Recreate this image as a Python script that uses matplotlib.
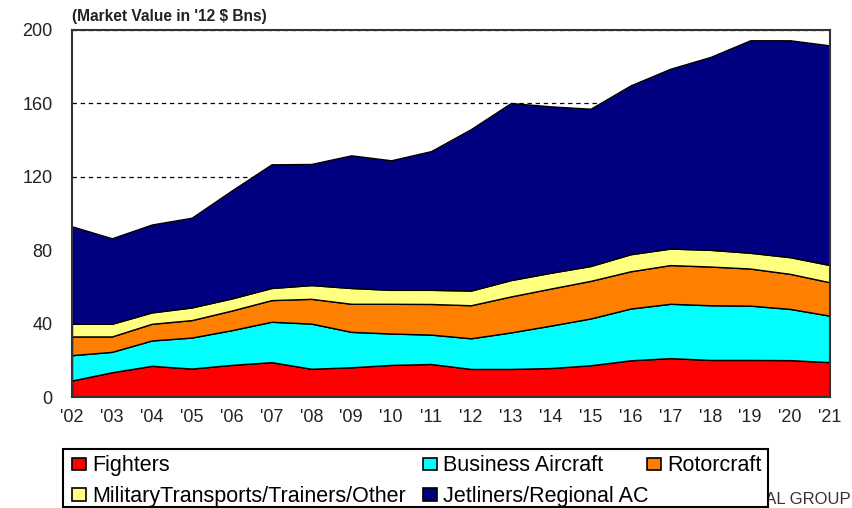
import numpy as np
import matplotlib.pyplot as plt
from matplotlib.patches import Patch, Rectangle

plt.rcParams['font.family'] = ['Liberation Sans', 'DejaVu Sans']

years = ["'02", "'03", "'04", "'05", "'06", "'07", "'08", "'09", "'10", "'11",
         "'12", "'13", "'14", "'15", "'16", "'17", "'18", "'19", "'20", "'21"]

# market value, '12 $ Bns
fighters = [9.0, 13.5, 17.0, 15.5, 17.5, 19.0, 15.4, 16.2, 17.5, 18.0,
            15.3, 15.3, 15.8, 17.3, 20.0, 21.2, 20.2, 20.2, 20.1, 19.0]
business = [13.8, 11.1, 13.8, 16.9, 18.9, 22.0, 24.6, 19.3, 17.1, 16.0,
            16.7, 19.9, 23.1, 25.5, 28.2, 29.6, 29.8, 29.6, 27.9, 25.3]
rotorcraft = [10.2, 8.4, 9.1, 9.5, 10.7, 11.8, 13.5, 15.3, 16.2, 16.7,
              18.0, 19.6, 20.2, 20.5, 20.3, 21.1, 21.1, 20.2, 19.1, 18.2]
military = [6.9, 6.9, 6.2, 6.9, 6.6, 6.6, 7.5, 8.6, 7.6, 7.7,
            8.0, 8.9, 8.6, 8.1, 9.3, 9.0, 9.1, 8.6, 9.1, 9.4]
jetliners = [53.1, 46.6, 47.9, 48.9, 58.8, 67.4, 66.0, 72.3, 70.6, 75.6,
             88.0, 96.5, 90.7, 85.7, 92.0, 98.0, 105.1, 115.8, 118.2, 119.7]

labels = ['Fighters', 'Business Aircraft', 'Rotorcraft',
          'MilitaryTransports/Trainers/Other', 'Jetliners/Regional AC']
colors = ['#FF0000', '#00FFFF', '#FF8000', '#FFFF80', '#000080']

x = np.arange(len(years))

fig = plt.figure(figsize=(8.52, 5.08), dpi=100)
ax = fig.add_axes([72/852, 1-397/508, (830-72)/852, (397-30)/508])

ax.stackplot(x, fighters, business, rotorcraft, military, jetliners,
             colors=colors, edgecolor='black', linewidth=1.0, zorder=2)

# dashed gridlines (only visible above the areas)
ax.yaxis.grid(True, linestyle=(0, (3.5, 3)), color='black', linewidth=0.9, zorder=1)
ax.set_axisbelow(True)

ax.set_xlim(0, len(years)-1)
ax.set_ylim(0, 200)
ax.set_yticks([0, 40, 80, 120, 160, 200])
ax.set_xticks(x)
ax.set_xticklabels(years)
ax.tick_params(axis='both', length=0, labelsize=13, colors='#222222')
ax.tick_params(axis='x', pad=9)
ax.tick_params(axis='y', pad=14)
for s in ax.spines.values():
    s.set_color('#333333')
    s.set_linewidth(1.5)

fig.text(72/852, 1-16/508, "(Market Value in '12 $ Bns)", fontsize=11.2,
         fontweight='bold', color='#222222', va='center', ha='left')

# source text, partly hidden behind the legend box
fig.text(851/852, 1-507/508, 'TEAL GROUP', fontsize=12, color='#333333',
         va='bottom', ha='right', zorder=1)

# legend frame
fig.add_artist(Rectangle((63/852, 1-507/508), (768-63)/852, (507-449)/508,
                         transform=fig.transFigure, facecolor='white',
                         edgecolor='black', linewidth=1.5, zorder=3))

kw = dict(loc='upper left', fontsize=15.5, frameon=False, borderpad=0.3,
          borderaxespad=0, handlelength=0.65, handleheight=0.5,
          handletextpad=0.28, columnspacing=0.8, labelspacing=0.45)

# first two columns (column-first fill)
order = [0, 3, 1, 4]
h1 = [Patch(facecolor=colors[i], edgecolor='black', linewidth=1.2) for i in order]
leg1 = fig.legend(h1, [labels[i] for i in order], ncol=2,
                  bbox_to_anchor=(66/852, 1-449/508), **kw)
leg1.set_zorder(5)

h2 = [Patch(facecolor=colors[2], edgecolor='black', linewidth=1.2)]
leg2 = fig.legend(h2, [labels[2]], bbox_to_anchor=(641/852, 1-449/508), **kw)
leg2.set_zorder(5)

fig.savefig('out.png', dpi=100)
